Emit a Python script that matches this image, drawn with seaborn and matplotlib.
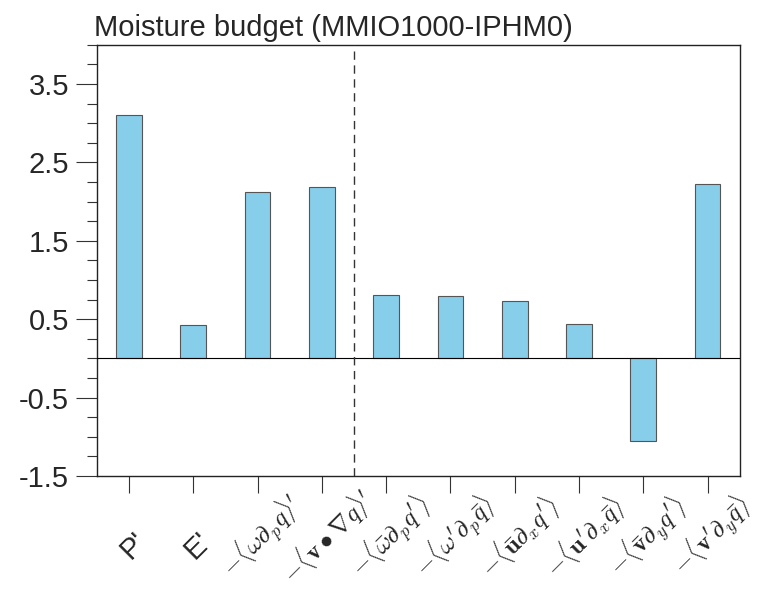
import matplotlib
matplotlib.use("Agg")
import matplotlib.pyplot as plt
from matplotlib.ticker import MultipleLocator, FixedLocator
from matplotlib.transforms import ScaledTranslation, blended_transform_factory
import seaborn as sns
import pandas as pd

# Moisture budget terms (anomalies, MMIO1000 minus IPHM0)
terms = [
    "P'",
    "E'",
    r"$-\langle\omega\partial_p q\rangle^{\prime}$",
    r"$-\langle\mathbf{v}\bullet\nabla q\rangle^{\prime}$",
    r"$-\langle\bar{\omega}\partial_p q^{\prime}\rangle$",
    r"$-\langle\omega^{\prime}\partial_p\bar{q}\rangle$",
    r"$-\langle\bar{\mathbf{u}}\partial_x q^{\prime}\rangle$",
    r"$-\langle\mathbf{u}^{\prime}\partial_x\bar{q}\rangle$",
    r"$-\langle\bar{\mathbf{v}}\partial_y q^{\prime}\rangle$",
    r"$-\langle\mathbf{v}^{\prime}\partial_y\bar{q}\rangle$",
]
values = [3.11, 0.42, 2.12, 2.19, 0.81, 0.80, 0.73, 0.44, -1.06, 2.22]
yticks = [-1.5, -0.5, 0.5, 1.5, 2.5, 3.5]

sns.set_style("white")
plt.rcParams["font.family"] = ["Liberation Sans", "DejaVu Sans"]
plt.rcParams["mathtext.fontset"] = "cm"

df = pd.DataFrame({"term": range(len(terms)), "value": values})

fig = plt.figure(figsize=(7.69, 5.89), dpi=100)
ax = fig.add_axes([0.126, 0.192, 0.836, 0.732])

sns.barplot(data=df, x="term", y="value", color="#87CEEB", width=0.4,
            edgecolor="#555555", linewidth=0.8, saturation=1, ax=ax,
            order=list(range(len(terms))))

ax.axhline(0, color="black", linewidth=0.8, zorder=3)
ax.axvline(3.5, color="#333333", linewidth=1.0, linestyle=(0, (6, 4)), zorder=3)

ax.set_xlim(-0.5, len(terms) - 0.5)
ax.set_ylim(-1.5, 4.0)
ax.yaxis.set_major_locator(FixedLocator(yticks))
ax.yaxis.set_minor_locator(MultipleLocator(0.25))
ax.set_yticklabels([f"{t:.1f}" for t in yticks], fontsize=21)

# Category labels: rotated 45 degrees, centred below each tick
ax.set_xticks(range(len(terms)))
ax.set_xticklabels([""] * len(terms))
base = blended_transform_factory(ax.transData, ax.transAxes)
for i, lab in enumerate(terms):
    plain = i < 2
    dy = -70 if plain else -61
    off = ScaledTranslation(5 / 100, dy / 100, fig.dpi_scale_trans)
    ax.text(i, 0, lab, transform=base + off, rotation=45,
            rotation_mode="anchor", ha="center", va="center",
            fontsize=21 if plain else 18, clip_on=False)

ax.tick_params(axis="y", which="major", direction="out", length=15,
               width=0.8, color="#333333", left=True, pad=5)
ax.tick_params(axis="y", which="minor", direction="out", length=7,
               width=0.8, color="#333333", left=True)
ax.tick_params(axis="x", which="major", direction="out", length=12,
               width=0.8, color="#333333", bottom=True)

for s in ax.spines.values():
    s.set_visible(True)
    s.set_color("#222222")
    s.set_linewidth(1.0)

ax.set_xlabel("")
ax.set_ylabel("")
ax.set_title("Moisture budget (MMIO1000-IPHM0)", loc="left", fontsize=21,
             pad=6, x=-0.004)

fig.savefig("out.png", dpi=100)
